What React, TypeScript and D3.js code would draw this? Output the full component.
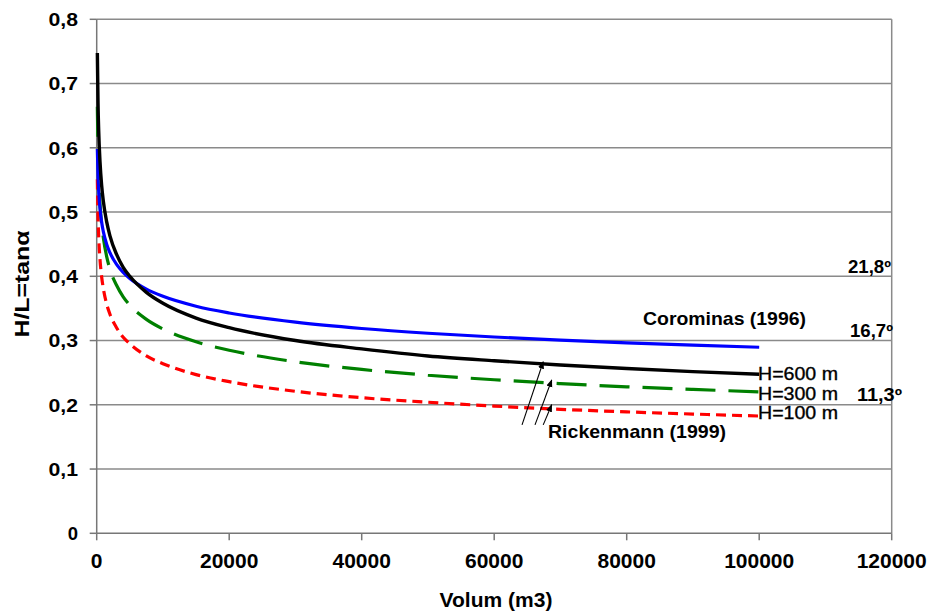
import React from "react";
import * as d3 from "d3";

// Volume (m3) sample points
const volumes = [100, 200, 300, 500, 750, 1000, 1500, 2000, 3000, 4000, 5000, 7500, 10000, 15000, 20000, 30000, 40000, 50000, 60000, 70000, 80000, 90000, 100000];
// Rickenmann (1999) H=600 m
const h600 = [0.7475, 0.669, 0.627, 0.578, 0.541, 0.517, 0.485, 0.463, 0.434, 0.414, 0.400, 0.375, 0.358, 0.335, 0.320, 0.300, 0.287, 0.276, 0.2685, 0.262, 0.2565, 0.2517, 0.2475];
// Rickenmann (1999) H=300 m
const h300 = [0.664, 0.595, 0.557, 0.513, 0.481, 0.460, 0.431, 0.411, 0.386, 0.368, 0.355, 0.333, 0.318, 0.298, 0.285, 0.267, 0.255, 0.246, 0.239, 0.233, 0.228, 0.224, 0.220];
// Rickenmann (1999) H=100 m
const h100 = [0.551, 0.493, 0.462, 0.426, 0.399, 0.381, 0.357, 0.341, 0.320, 0.305, 0.295, 0.276, 0.264, 0.247, 0.236, 0.221, 0.211, 0.204, 0.198, 0.193, 0.189, 0.1856, 0.1825];
// Corominas (1996)
const corominas = [0.598, 0.556, 0.533, 0.505, 0.484, 0.4695, 0.450, 0.4367, 0.4185, 0.406, 0.3966, 0.380, 0.3688, 0.3534, 0.3429, 0.3286, 0.3188, 0.3114, 0.3055, 0.3006, 0.2964, 0.2928, 0.2896];

const xTicks = [0, 20000, 40000, 60000, 80000, 100000, 120000];
const yTicks = [0, 0.1, 0.2, 0.3, 0.4, 0.5, 0.6, 0.7, 0.8];
const yTickLabels = ["0", "0,1", "0,2", "0,3", "0,4", "0,5", "0,6", "0,7", "0,8"];

// arrows: [V, H/L] tail and head
const arrowsFrom = [[64200, 0.1687], [66160, 0.1687], [67400, 0.1687]];
const arrowsTo = [[67400, 0.267], [68680, 0.2386], [68680, 0.2]];

const FONT = "'Liberation Sans', Arial, sans-serif";

export default function App() {
  const W = 929, H = 615;
  const x = d3.scaleLinear().domain([0, 120000]).range([96.7, 891.7]);
  const y = d3.scaleLinear().domain([0, 0.8]).range([533.3, 19.3]);

  const line = d3
    .line<[number, number]>()
    .x((d) => x(d[0]))
    .y((d) => y(d[1]))
    .curve(d3.curveMonotoneX);

  const mk = (vals: number[]) => line(volumes.map((v, i) => [v, vals[i]] as [number, number])) || "";

  const series = [
    { vals: h300, color: "#008000", dash: "30,13", w: 3.2 },
    { vals: h100, color: "#ff0000", dash: "10,6", w: 3.2 },
    { vals: corominas, color: "#0000ff", dash: undefined, w: 3.2 },
    { vals: h600, color: "#000000", dash: undefined, w: 3.4 },
  ];

  const grid = "#8a8a8a";

  return (
    <svg width={W} height={H} style={{ position: "absolute", left: 0, top: 0, background: "#fff" }} fontFamily={FONT}>
      <defs>
        <marker id="arr" viewBox="0 0 10 10" refX="9" refY="5" markerWidth="7" markerHeight="7" orient="auto">
          <path d="M0,1 L10,5 L0,9 z" fill="#000" />
        </marker>
      </defs>
      {/* gridlines */}
      {yTicks.slice(1).map((t) => (
        <line key={t} x1={x(0)} x2={x(120000)} y1={y(t)} y2={y(t)} stroke={grid} strokeWidth={1.5} />
      ))}
      {/* right border */}
      <line x1={x(120000)} x2={x(120000)} y1={y(0.8)} y2={y(0)} stroke={grid} strokeWidth={1.5} />
      {/* axes */}
      <line x1={x(0)} x2={x(0)} y1={y(0.8)} y2={y(0)} stroke="#777" strokeWidth={1.5} />
      <line x1={x(0)} x2={x(120000)} y1={y(0)} y2={y(0)} stroke="#777" strokeWidth={1.5} />
      {yTicks.map((t, i) => (
        <g key={t}>
          <line x1={x(0) - 7} x2={x(0)} y1={y(t)} y2={y(t)} stroke="#777" strokeWidth={1.5} />
          <text
            x={78}
            y={y(t) + 6.8}
            textAnchor="end"
            fontSize={18.5}
            fontWeight="bold"
            fill="#000"
            textLength={yTickLabels[i].length > 1 ? 29.5 : undefined}
            lengthAdjust="spacingAndGlyphs"
          >
            {yTickLabels[i]}
          </text>
        </g>
      ))}
      {xTicks.map((t) => (
        <g key={t}>
          <line x1={x(t)} x2={x(t)} y1={y(0)} y2={y(0) + 7} stroke="#777" strokeWidth={1.5} />
          <text x={x(t)} y={568} textAnchor="middle" fontSize={21} fontWeight="bold" fill="#000">
            {d3.format("d")(t)}
          </text>
        </g>
      ))}
      {/* series */}
      {series.map((s, i) => (
        <path key={i} d={mk(s.vals)} fill="none" stroke={s.color} strokeWidth={s.w} strokeDasharray={s.dash} />
      ))}
      {/* arrows */}
      {arrowsFrom.map((f, i) => (
        <line
          key={i}
          x1={x(f[0])}
          y1={y(f[1])}
          x2={x(arrowsTo[i][0])}
          y2={y(arrowsTo[i][1])}
          stroke="#000"
          strokeWidth={1.1}
          markerEnd="url(#arr)"
        />
      ))}
      {/* annotations */}
      <text x={848} y={273} fontSize={18} fontWeight="bold" textLength={43} lengthAdjust="spacingAndGlyphs">21,8º</text>
      <text x={850} y={337} fontSize={18} fontWeight="bold" textLength={43} lengthAdjust="spacingAndGlyphs">16,7º</text>
      <text x={857} y={401} fontSize={18} fontWeight="bold" textLength={45} lengthAdjust="spacingAndGlyphs">11,3º</text>
      <text x={643} y={325} fontSize={18.5} fontWeight="bold" textLength={163} lengthAdjust="spacingAndGlyphs">Corominas (1996)</text>
      <text x={548} y={438} fontSize={18.5} fontWeight="bold" textLength={178} lengthAdjust="spacingAndGlyphs">Rickenmann (1999)</text>
      <text x={758} y={380} fontSize={17.5} textLength={80} lengthAdjust="spacingAndGlyphs" stroke="#000" strokeWidth={0.35}>H=600 m</text>
      <text x={758} y={400} fontSize={17.5} textLength={80} lengthAdjust="spacingAndGlyphs" stroke="#000" strokeWidth={0.35}>H=300 m</text>
      <text x={758} y={419} fontSize={17.5} textLength={80} lengthAdjust="spacingAndGlyphs" stroke="#000" strokeWidth={0.35}>H=100 m</text>
      {/* axis titles */}
      <text x={496} y={607} textAnchor="middle" fontSize={21} fontWeight="bold">Volum (m3)</text>
      <text
        transform="translate(29,284) rotate(-90)"
        textAnchor="middle"
        fontSize={21}
        fontWeight="bold"
        textLength={107}
        lengthAdjust="spacingAndGlyphs"
      >
        H/L=tanα
      </text>
    </svg>
  );
}
